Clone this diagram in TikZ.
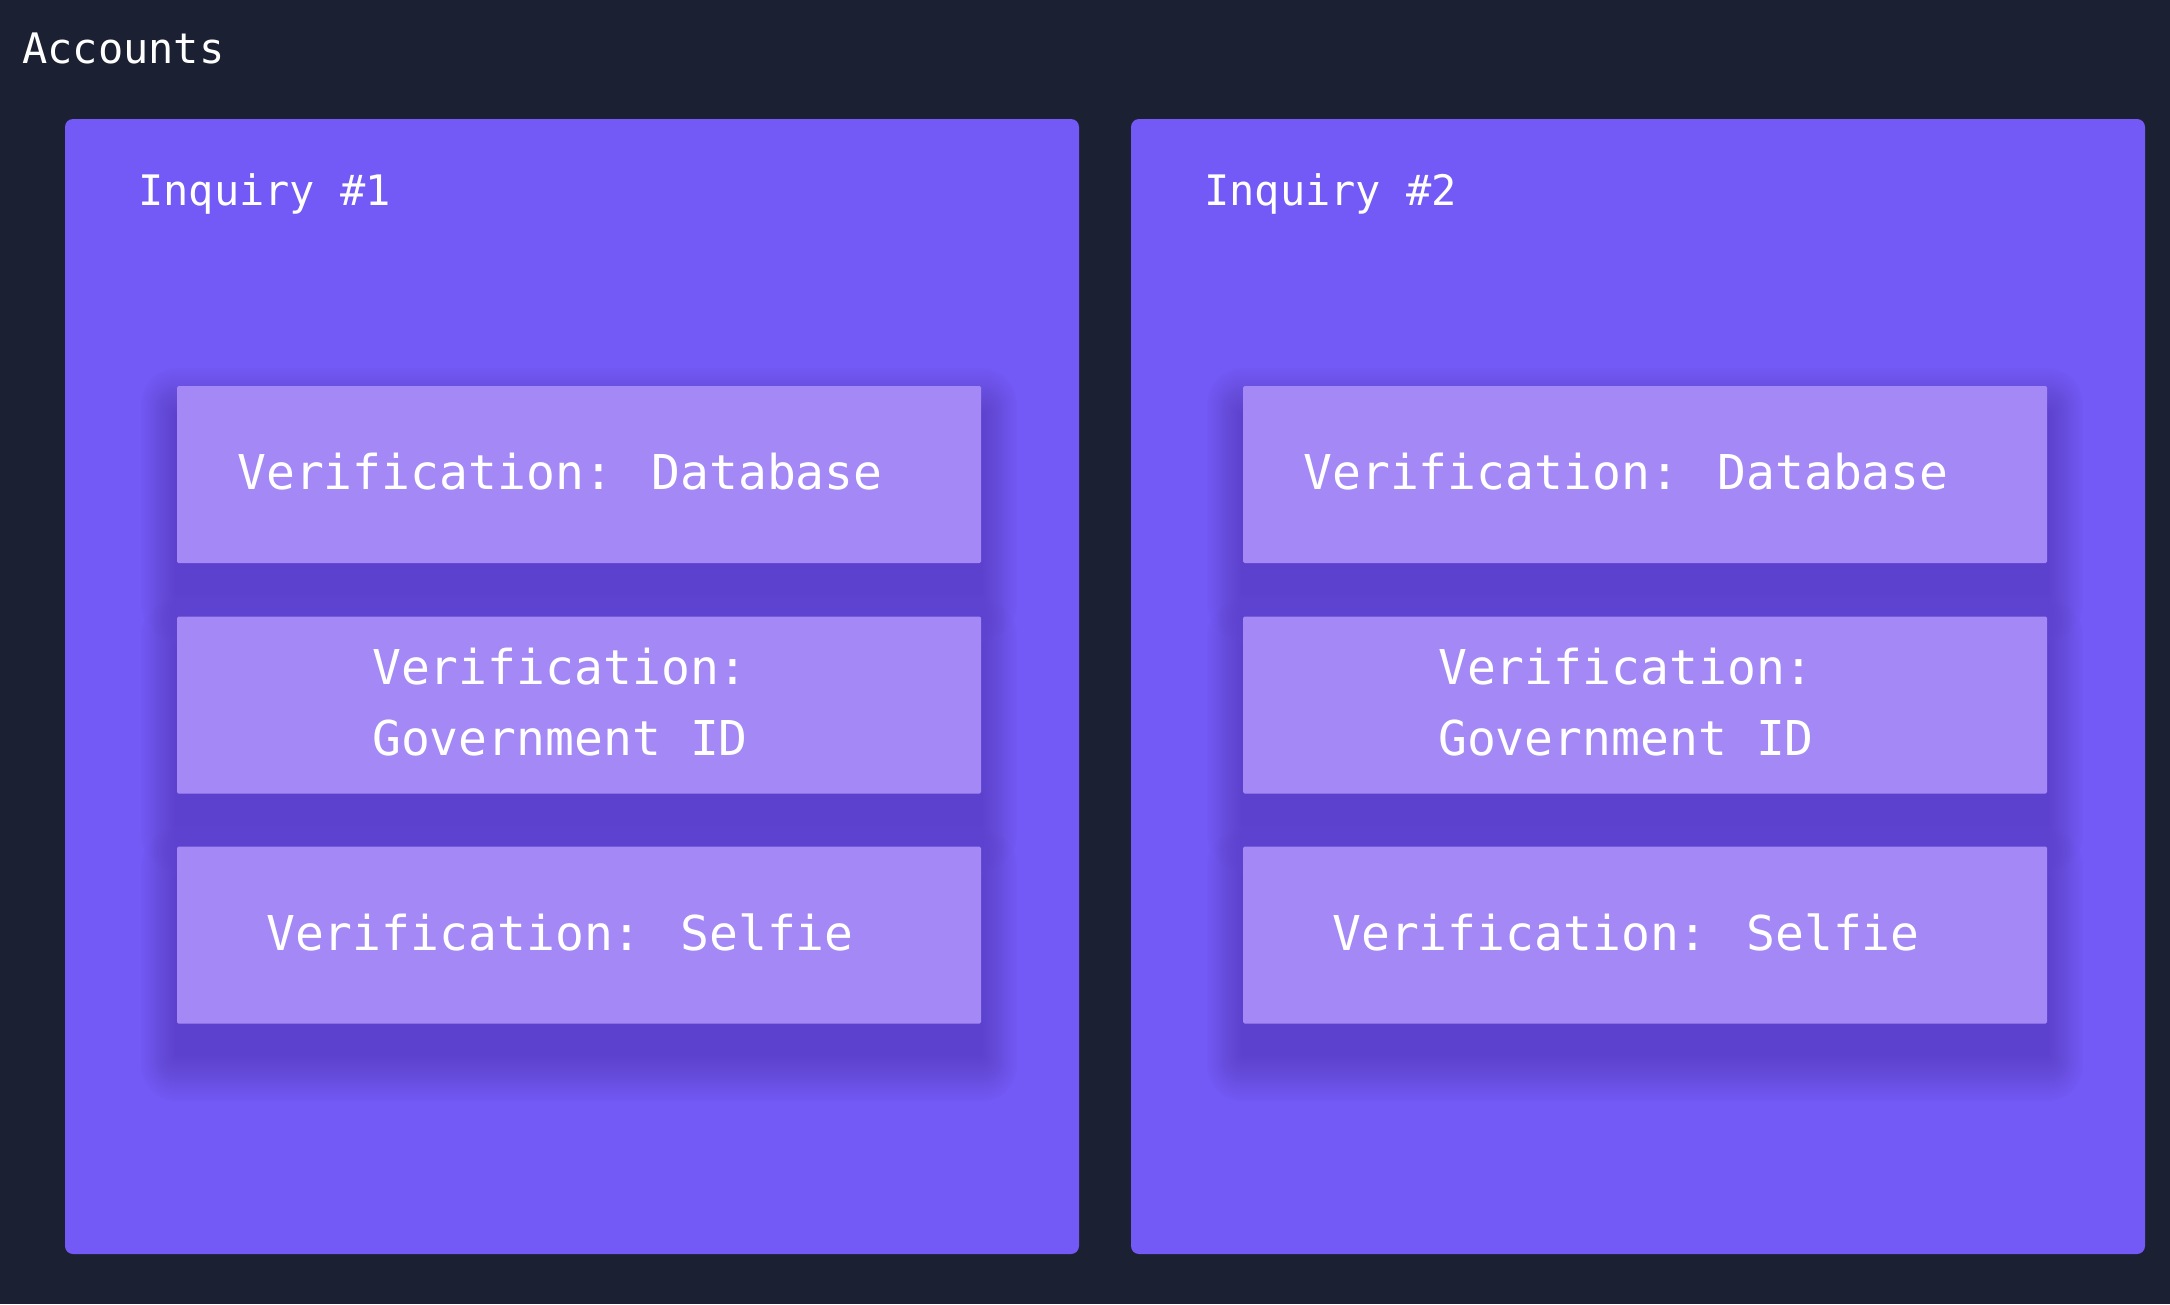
\documentclass[tikz,border=0pt]{standalone}
\usepackage{fontspec}
\setmainfont{DejaVu Sans Mono}
\definecolor{bgc}{HTML}{1C2033}
\definecolor{panelc}{HTML}{7359F5}
\definecolor{boxc}{HTML}{A488F5}
\definecolor{shadc}{HTML}{2A1C80}
\pgfdeclarelayer{back}
\pgfdeclarelayer{shade}
\pgfsetlayers{back,shade,main}
\tikzset{
  panel/.style={fill=panelc, rounded corners=8pt, inner sep=0pt, outer sep=0pt,
    minimum width=1014pt, minimum height=1135pt},
  vbox/.style={fill=boxc, inner sep=0pt, outer sep=0pt, rounded corners=1.5pt,
    minimum width=804pt, minimum height=177pt},
  shadowlayer/.style={fill=shadc, fill opacity=0.011},
  vtext/.style={text=white, font=\fontsize{48}{71}\selectfont, align=left, inner sep=0pt},
  head/.style={text=white, font=\fontsize{42}{50}\selectfont, inner sep=0pt, anchor=base west},
}
\begin{document}
\begin{tikzpicture}[x=1pt,y=-1pt]
\begin{pgfonlayer}{back}
\fill[bgc] (0,0) rectangle (2170,1304);
\end{pgfonlayer}
\useasboundingbox (0,0) rectangle (2170,1304);
\node[head] (acc) at (22,63) {Accounts};
\foreach \i/\cx in {1/572, 2/1638} {
  \begin{pgfonlayer}{back}
  \node[panel] (p\i) at (\cx,686.5) {};
  \end{pgfonlayer}
  \node[head] (h\i) at ([xshift=73pt,yshift=-86pt]p\i.north west) {Inquiry \#\i};
  \foreach \j/\cy in {a/474.5, b/705, c/935} {
    \node[vbox] (b\i\j) at ([xshift=7pt]\cx,\cy) {};
    \begin{pgfonlayer}{shade}
    \foreach \k in {0,...,23} {
      \pgfmathsetmacro\e{48-2*\k}
      \pgfmathsetmacro\ex{0.75*\e}
      \fill[shadowlayer, rounded corners=\ex pt]
        ([xshift=-\ex pt, yshift=-30pt+\e pt]b\i\j.north west) rectangle
        ([xshift=\ex pt, yshift=-30pt-\e pt]b\i\j.south east);
    }
    \end{pgfonlayer}
  }
  \node[vtext] (t\i a) at ([xshift=-19pt,yshift=3pt]b\i a.center) {Verification: Database};
  \node[vtext] (t\i b) at ([xshift=-19pt,yshift=3pt]b\i b.center) {Verification:\\Government ID};
  \node[vtext] (t\i c) at ([xshift=-19pt,yshift=3pt]b\i c.center) {Verification: Selfie};
}
\end{tikzpicture}
\end{document}
